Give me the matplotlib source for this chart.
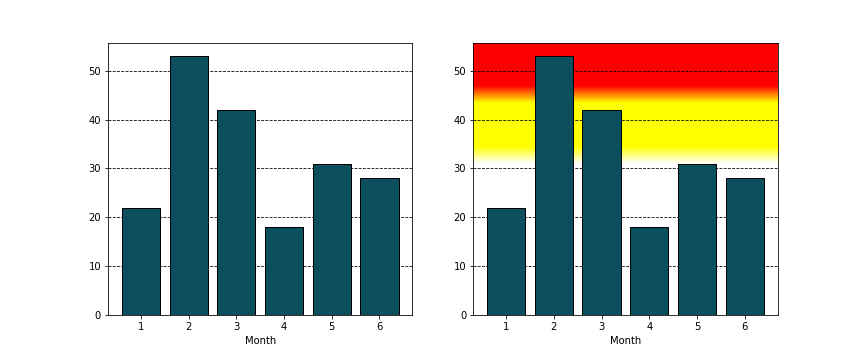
import numpy as np
import matplotlib
matplotlib.use("Agg")
import matplotlib.pyplot as plt
from matplotlib.colors import LinearSegmentedColormap

months = [1, 2, 3, 4, 5, 6]
values = [22, 53, 42, 18, 31, 28]
bar_color = "#0b4f5e"

fig, axes = plt.subplots(1, 2, figsize=(12, 5), dpi=72)
fig.subplots_adjust(bottom=0.125)

for ax in axes:
    ax.set_axisbelow(True)
    ax.grid(axis="y", color="black", linestyle="--", linewidth=0.8)
    ax.bar(months, values, color=bar_color, edgecolor="black", zorder=3)
    ax.set_xlabel("Month")
    ax.set_xticks(months)

ax = axes[1]
xlim = ax.get_xlim()
ylim = ax.get_ylim()
top = ylim[1]
stops = [(0.0, "white"), (31.0 / top, "white"), (34.5 / top, "yellow"),
         (43.5 / top, "yellow"), (47.0 / top, "red"), (1.0, "red")]
cmap = LinearSegmentedColormap.from_list("heat", stops)
grad = np.linspace(0, 1, 512).reshape(-1, 1)
ax.imshow(grad, cmap=cmap, aspect="auto", origin="lower",
          extent=[xlim[0], xlim[1], 0, top], zorder=0)
ax.set_xlim(xlim)
ax.set_ylim(ylim)

fig.savefig("out.png", dpi=72)
